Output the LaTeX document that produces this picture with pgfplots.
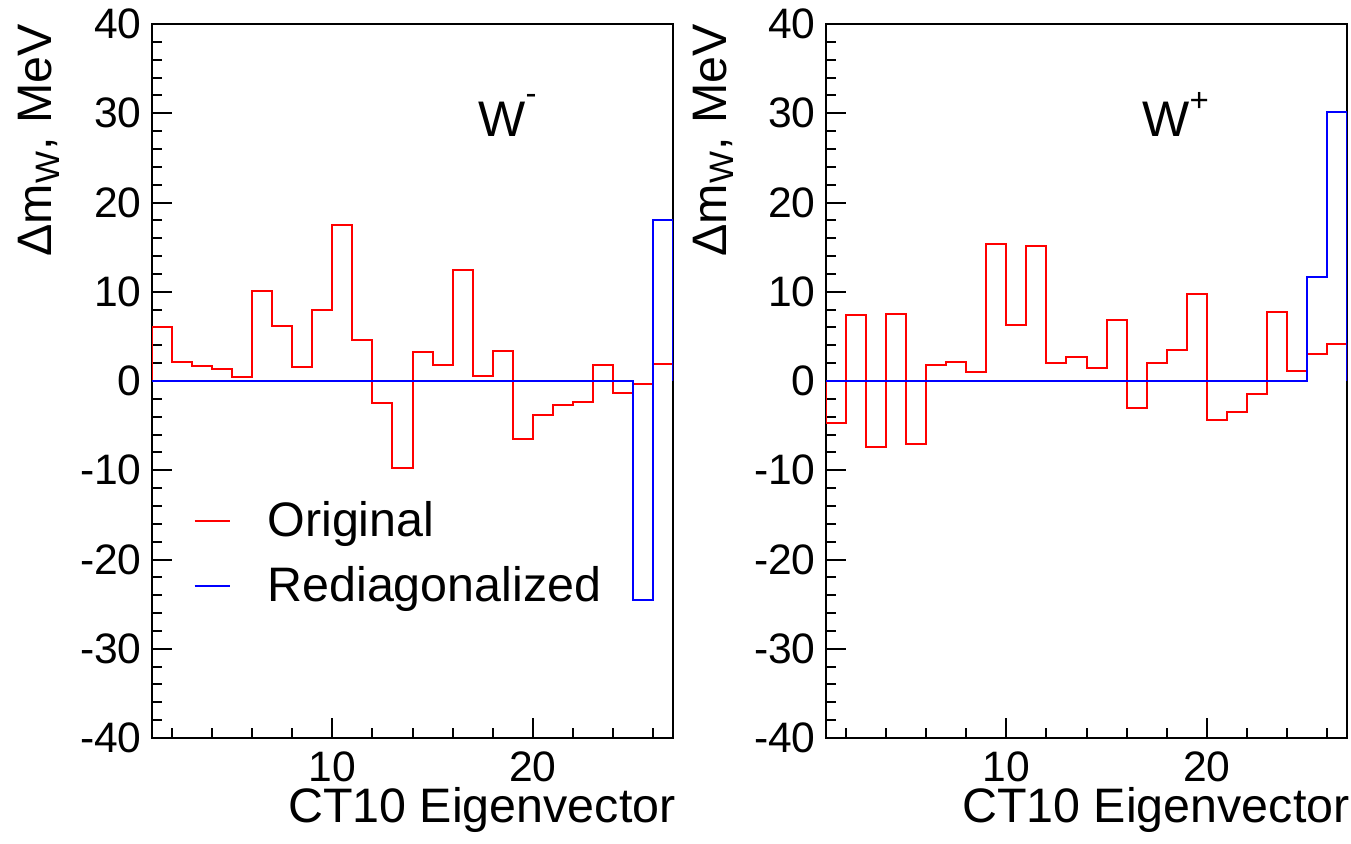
\documentclass[border=0pt]{standalone}
\usepackage{fontspec}
\setmainfont{Liberation Sans}
\usepackage{pgfplots}
\usepackage{pgfplotstable}
\pgfplotsset{compat=1.18}

\definecolor{rootred}{rgb}{1,0,0}
\definecolor{rootblue}{rgb}{0,0,1}

\newcommand{\ticksize}{\fontsize{21.3}{25}\selectfont}
\newcommand{\labsize}{\fontsize{24.2}{29}\selectfont}

% bin left edge, original, rediagonalized (W-)
\pgfplotstableread{
x  orig   redi
1   0      0
1   6.0    0
2   2.1    0
3   1.7    0
4   1.3    0
5   0.4    0
6   10.1   0
7   6.2    0
8   1.6    0
9   7.95   0
10  17.5   0
11  4.55   0
12  -2.5   0
13  -9.8   0
14  3.25   0
15  1.8    0
16  12.4   0
17  0.6    0
18  3.4    0
19  -6.5   0
20  -3.8   0
21  -2.7   0
22  -2.4   0
23  1.8    0
24  -1.3   0
25  -0.3   -24.5
26  1.95   18.0
27  1.95   18.0
27  0      0
}\wminus

% same for W+
\pgfplotstableread{
x  orig   redi
1   0      0
1   -4.7   0
2   7.4    0
3   -7.45  0
4   7.5    0
5   -7.05  0
6   1.75   0
7   2.1    0
8   1.0    0
9   15.3   0
10  6.3    0
11  15.1   0
12  2.05   0
13  2.7    0
14  1.5    0
15  6.8    0
16  -3.05  0
17  2.05   0
18  3.45   0
19  9.75   0
20  -4.4   0
21  -3.5   0
22  -1.4   0
23  7.75   0
24  1.15   0
25  3.0    11.7
26  4.2    30.1
27  4.2    30.1
27  0      0
}\wplus

\pgfplotsset{
  rootpad/.style={
    scale only axis, width=260.5pt, height=357pt,
    xmin=1, xmax=27, ymin=-40, ymax=40,
    xtick={10,20}, minor xtick={2,4,...,26},
    ytick={-40,-30,...,40}, minor ytick={-38,-36,...,38},
    xtick pos=left, ytick pos=left,
    tick align=inside,
    major tick length=10pt, minor tick length=5pt,
    tick style={black, line width=1pt},
    axis line style={line width=1pt},
    ticklabel style={font=\ticksize},
    /pgf/number format/assume math mode=true,
    yticklabel style={inner sep=0pt, xshift=-5pt},
    xticklabel style={inner sep=0pt, yshift=-6.5pt},
  },
  hist/.style={const plot, line width=1pt},
}

\begin{document}
\begin{tikzpicture}
\useasboundingbox (0,0) rectangle (675.5pt,421.5pt);

\begin{axis}[rootpad, at={(76pt,52.5pt)},
  legend cell align=left,
  legend image code/.code={\draw[#1] (0pt,0pt) -- (17.5pt,0pt);},
  legend style={at={(0.079,0.332)}, anchor=north west, draw=none, fill=none,
    inner sep=0pt, font=\labsize, row sep=12.3pt, column sep=18.5pt,
    nodes={inner sep=0pt, text depth=0.25em}},
]
  \addplot[hist, rootred] table[x=x, y=orig] {\wminus};
  \addlegendentry{Original}
  \addplot[hist, rootblue] table[x=x, y=redi] {\wminus};
  \addlegendentry{Rediagonalized}
\end{axis}

\begin{axis}[rootpad, at={(413pt,52.5pt)}]
  \addplot[hist, rootred] table[x=x, y=orig] {\wplus};
  \addplot[hist, rootblue] table[x=x, y=redi] {\wplus};
\end{axis}

% axis titles, ROOT style
\node[rotate=90, anchor=base east, font=\labsize, inner sep=0pt] at (26pt,409.5pt) {Δm\textsubscript{W}, MeV};
\node[rotate=90, anchor=base east, font=\labsize, inner sep=0pt] at (363pt,409.5pt) {Δm\textsubscript{W}, MeV};
\node[anchor=base east, font=\labsize, inner sep=0pt] at (338pt,10.5pt) {CT10 Eigenvector};
\node[anchor=base east, font=\labsize, inner sep=0pt] at (675pt,10.5pt) {CT10 Eigenvector};

% panel labels
\node[anchor=base west, inner sep=0pt, font=\fontsize{25}{30}\selectfont] at (239pt,353pt)
  {W\raisebox{16pt}{\fontsize{16.5}{18}\selectfont -}};
\node[anchor=base west, inner sep=0pt, font=\fontsize{25}{30}\selectfont] at (571pt,353pt)
  {W\raisebox{13pt}{\fontsize{16.5}{18}\selectfont +}};
\end{tikzpicture}
\end{document}
